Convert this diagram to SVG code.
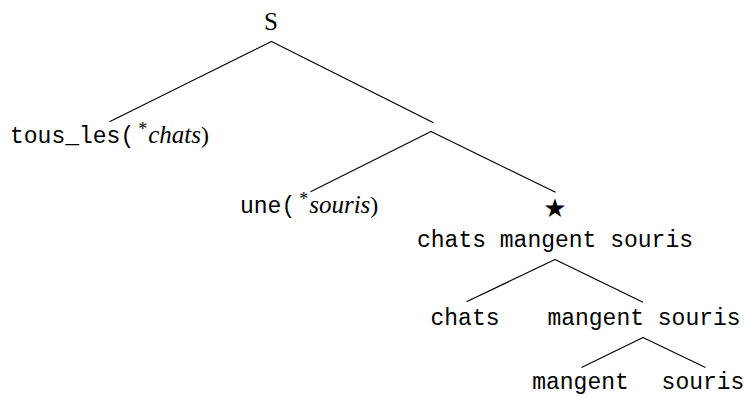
<svg xmlns="http://www.w3.org/2000/svg" width="748" height="396" viewBox="0 0 748 396">
<style>
.tt{font-family:"Liberation Mono","DejaVu Sans Mono",monospace;font-size:23px;fill:#000}
.rm{font-family:"Liberation Serif","DejaVu Serif",serif;font-size:24px;fill:#000}
.big{font-family:"Liberation Serif","DejaVu Serif",serif;font-size:25px;fill:#000}
.it{font-family:"Liberation Serif","DejaVu Serif",serif;font-size:25px;font-style:italic;fill:#000}
.sup{font-family:"Liberation Serif","DejaVu Serif",serif;font-size:18px;fill:#000}
.star{font-family:"DejaVu Sans",sans-serif;font-size:26px;fill:#000}
.edge{stroke:#000;stroke-width:1.2;fill:none;stroke-linecap:round}
</style>
<rect width="748" height="396" fill="#fff"/>
<g id="connectors">
<line class="edge" x1="271.5" y1="41.5" x2="110" y2="121.5"/>
<line class="edge" x1="271.5" y1="41.5" x2="433" y2="122.5"/>
<line class="edge" x1="431" y1="131.5" x2="311" y2="191.5"/>
<line class="edge" x1="431" y1="131.5" x2="555" y2="192"/>
<line class="edge" x1="555" y1="259.5" x2="467" y2="301.5"/>
<line class="edge" x1="555" y1="259.5" x2="642.5" y2="302"/>
<line class="edge" x1="643" y1="337.5" x2="582" y2="367.3"/>
<line class="edge" x1="643" y1="337.5" x2="705" y2="367.3"/>
</g>
<g id="node-S"><text class="big" x="271" y="29.5" text-anchor="middle">S</text></g>
<g id="node-tous-les"><text x="10" y="143"><tspan class="tt">tous_les(</tspan><tspan class="sup" dx="4" dy="-8">*</tspan><tspan class="it" dx="1" dy="8">chats</tspan><tspan class="rm">)</tspan></text></g>
<g id="node-une"><text x="240" y="213"><tspan class="tt">une(</tspan><tspan class="sup" dx="4" dy="-8">*</tspan><tspan class="it" dx="1" dy="8">souris</tspan><tspan class="rm">)</tspan></text></g>
<g id="node-star"><text class="star" x="555" y="217" text-anchor="middle">★</text></g>
<g id="node-cms"><text class="tt" x="555" y="247" text-anchor="middle">chats mangent souris</text></g>
<g id="node-chats"><text class="tt" x="465" y="325" text-anchor="middle">chats</text></g>
<g id="node-ms"><text class="tt" x="644" y="325" text-anchor="middle">mangent souris</text></g>
<g id="node-mangent"><text class="tt" x="580.5" y="389" text-anchor="middle">mangent</text></g>
<g id="node-souris"><text class="tt" x="703" y="389" text-anchor="middle">souris</text></g>
</svg>
